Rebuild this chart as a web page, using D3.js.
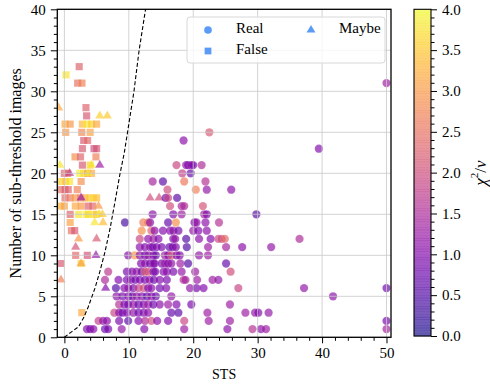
<!DOCTYPE html>
<html><head><meta charset="utf-8">
<script src="https://cdn.jsdelivr.net/npm/d3@7"></script>
<style>body{margin:0;background:#fff}svg{display:block}text{font-family:"Liberation Serif","DejaVu Serif",serif;fill:#000}</style>
</head><body><svg id="c" width="490" height="387"></svg>
<script>
// [STS, number of sub-threshold images, chi2/nu]
const realPts = [
[3.5,1,1.0],[4.0,1,0.9],[4.5,1,1.1],[6.3,1,0.8],[6.8,1,0.9],[8.9,1,1.2],[12.4,1,1.0],[18.6,1,1.3],[25.3,1,1.1],[29.2,1,1.6],[30.5,1,1.1],[31.3,1,1.3],[50,1,1.4],
[5.3,2,1.8],[6.0,2,1.2],[6.6,2,1.1],[8.5,2,0.9],[9.9,2,0.6],[11.5,2,1.0],[12.5,2,1.5],[13.5,2,2.0],[14.4,2,1.1],[16.1,2,1.0],[18.6,2,1.9],[22.4,2,1.3],[25.7,2,1.3],[50,2,0.9],
[7.75,3,1.9],[8.5,3,1.1],[9.0,3,0.9],[9.7,3,1.0],[10.7,3,1.2],[11.5,3,0.8],[12.3,3,1.0],[13.0,3,1.1],[16.6,3,0.7],[17.7,3,0.6],[22.2,3,1.3],[28.1,3,1.3],[29.6,3,1.2],[30.1,3,1.0],[31.7,3,1.2],
[8.5,4,1.6],[9.3,4,1.0],[9.9,4,0.9],[10.7,4,1.2],[11.5,4,0.8],[12.3,4,1.0],[13.0,4,1.3],[13.8,4,0.8],[14.8,4,1.1],[16.1,4,1.3],[17.4,4,1.0],[19.7,4,0.9],[25.7,4,1.3],
[8.1,5,1.1],[9.0,5,0.9],[9.9,5,1.0],[10.5,5,0.8],[11.2,5,1.2],[12.0,5,1.0],[12.8,5,0.7],[13.5,5,1.1],[14.2,5,0.8],[16.6,5,1.2],[41.7,5,1.1],
[8.0,6,0.5],[9.3,6,1.0],[9.9,6,1.2],[10.7,6,0.9],[11.5,6,1.8],[12.3,6,2.0],[13.0,6,1.0],[13.5,6,1.1],[14.8,6,0.8],[15.8,6,1.0],[19.5,6,1.2],[20.5,6,0.9],[21.6,6,1.0],[27.0,6,1.9],[37.2,6,1.2],[50,6,0.8],
[6.3,7,1.5],[8.4,7,1.0],[9.7,7,0.9],[10.3,7,1.1],[11.0,7,0.8],[11.7,7,1.0],[12.5,7,0.9],[13.2,7,1.2],[13.9,7,0.8],[14.8,7,1.0],[15.9,7,0.9],[18.5,7,1.6],[18.8,7,1.4],[20.6,7,1.3],[23.0,7,1.3],[23.9,7,1.2],
[6.8,8,1.7],[9.7,8,0.9],[10.5,8,1.0],[11.2,8,1.2],[12.0,8,0.8],[12.5,8,2.2],[13.0,8,2.0],[13.8,8,1.1],[14.1,8,0.9],[15.4,8,1.0],[15.9,8,1.1],[16.9,8,0.9],[18.2,8,1.2],[20.3,8,1.3],[25.8,8,2.0],
[11.9,9,1.0],[12.5,9,1.1],[13.3,9,0.8],[13.8,9,1.2],[14.0,9,1.0],[15.1,9,0.9],[15.6,9,1.3],[16.1,9,1.0],[16.6,9,1.2],[18.0,9,1.3],[19.2,9,0.5],[25.1,9,0.7],
[9.9,10,1.0],[10.9,10,3.0],[11.7,10,1.1],[12.5,10,0.9],[13.0,10,1.2],[13.8,10,1.0],[14.2,10,0.8],[15.6,10,1.3],[16.1,10,1.0],[16.6,10,2.1],[17.4,10,1.1],[17.9,10,1.0],[20.9,10,1.2],[22.3,10,1.3],
[11.7,11,1.1],[12.5,11,1.0],[13.3,11,1.2],[13.7,11,0.8],[14.3,11,1.0],[15.1,11,0.9],[16.3,11,0.7],[16.8,11,0.9],[17.3,11,1.0],[19.0,11,0.5],[22.3,11,1.3],[25.1,11,1.4],[27.6,11,1.1],[32.1,11,1.2],
[11.7,12,1.9],[13.0,12,1.1],[13.8,12,1.3],[14.6,12,1.0],[16.9,12,1.0],[17.2,12,1.2],[18.9,12,0.5],[20.9,12,1.1],[22.7,12,1.0],[23.9,12,1.9],[24.4,12,2.0],[24.9,12,2.4],[36.5,12,1.5],
[12.0,13,2.9],[13.5,13,2.4],[14.0,13,1.1],[15.3,13,1.0],[16.4,13,1.0],[16.9,13,1.2],[17.7,13,0.9],[20.0,13,1.2],[20.8,13,1.0],[22.1,13,1.1],
[9.4,14,0.4],[12.25,14,2.7],[13.0,14,2.6],[13.3,14,1.1],[16.1,14,0.7],[17.3,14,2.9],[20.2,14,1.0],[20.5,14,1.2],[21.9,14,1.1],[24.0,14,1.6],
[13.7,15,1.1],[16.9,15,1.0],[18.2,15,1.3],[21.7,15,1.4],[22.1,15,1.0],[29.8,15,0.6],
[16.4,16,2.0],[18.2,16,1.4],[18.6,16,1.5],[21.5,16,2.1],
[15.7,17,0.8],[16.1,17,1.9],[17.5,17,0.6],
[16.0,18,2.0],[20.4,18,2.7],[22.1,18,1.2],[25.9,18,1.1],
[13.7,19,1.4],[15.3,19,0.6],[18.6,19,2.6],[21.9,19,1.6],
[18.3,20,1.8],[19.6,20,0.7],
[17.4,21,1.9],[18.9,21,1.1],[19.2,21,1.0],[19.7,21,1.2],[20.0,21,0.9],[21.3,21,1.5],
[39.5,23,1.0],[18.5,24,1.1],[22.5,25,2.2],[50,31,1.3]
];
const falsePts = [
[2.3,33,2.3],[0.25,32,3.8],[2.06,31,2.5],[2.73,31,2.7],[3.35,28,2.3],[3.45,27,2.2],
[0.1,26,3.2],[0.9,26,3.0],[2.8,26,3.3],[3.5,26,3.8],[4.2,26,3.6],[5.0,26,3.2],
[0.2,25,3.0],[2.7,25,2.8],[4.0,25,3.1],[3.0,24,2.2],[3.6,24,2.4],
[2.8,23,2.2],[4.6,23,2.0],[5.0,23,2.1],[1.65,22,2.9],[2.5,22,2.3],[4.9,22,2.7],
[2.8,21,2.2],[4.0,21,3.6],
[0.0,20,2.3],[0.5,20,2.4],[2.4,20,3.9],[3.0,20,3.7],[3.6,20,3.0],[4.2,20,3.2],
[-0.5,19,3.6],[0.2,19,3.4],[0.8,19,3.8],[2.6,19,2.9],
[-0.5,18,2.5],[0.1,18,2.2],[0.6,18,2.3],[2.0,18,2.7],
[0.1,17,2.4],[0.9,17,2.6],[1.7,17,3.0],[2.5,17,2.7],[3.2,17,3.2],[3.9,17,3.5],[4.5,17,3.7],[5.0,17,3.4],
[-0.5,16,3.3],[0.0,16,3.1],[1.7,16,3.2],[2.6,16,3.0],[3.7,16,2.3],[4.4,16,2.4],
[0.9,15,2.3],[2.2,15,3.8],[3.4,15,3.9],[3.7,15,3.7],[4.5,15,3.8],[5.0,15,3.4],
[0.9,14,3.1],[1.1,13,2.5],[1.6,13,2.2],[1.75,10,2.4],[3.56,10,2.1],[-0.53,9,2.2],[2.6,9,3.6],[2.7,3,3.2]
];
const maybePts = [
[-0.9,28,3.2],[5.5,27,3.6],[6.66,27,3.5],[-0.7,21,3.8],[4.2,21,3.8],[5.5,21,1.3],[0.8,20,1.8],[3.7,20,3.9],
[2.6,17,1.3],[5.3,16,3.0],[5.4,15,3.9],[5.9,15,3.5],[4.7,14,3.8],[6.0,14,3.4],[2.2,12,3.0],[5.0,12,2.2],
[1.75,11,2.1],[4.9,10,1.2],[2.6,9,3.1],[-0.53,7,2.7],[6.4,6,1.0],[13.3,17,2.0],[14.7,17,2.0]
];
const curveX = [0,1,2.2,3,3.7,4.75,5.5,6.3,7.1,7.85,8.6,9.3,9.9,10.8,11.6,12.6,12.9];
const curveY = [0,0.6,1.3,2.4,3.7,6,8,10.4,13.3,16.5,19.8,22.5,25.5,30,35,40,41.5];
const xTicks = [0,10,20,30,40,50];
const yTicks = [0,5,10,15,20,25,30,35,40];
const cbTicks = [0,0.5,1,1.5,2,2.5,3,3.5,4];
const legendItems = [["Real","circle"],["False","square"],["Maybe","triangle"]];

const svg = d3.select("#c");
const L=57.3, R=391, T=9.3, B=337.3;
const x = d3.scaleLinear().domain([-1.1,50.7]).range([L,R]);
const y = d3.scaleLinear().domain([0,40]).range([B,T]);
const col = d3.scaleSequential(d3.interpolatePlasma).domain([0,4]);
const FS = 15;
const SERIF = '"Liberation Serif","DejaVu Serif",serif';

svg.append("defs").append("clipPath").attr("id","clip").append("rect")
  .attr("x",L).attr("y",T).attr("width",R-L).attr("height",B-T);

const plot = svg.append("g").attr("clip-path","url(#clip)");
const sym = {circle:d3.symbol(d3.symbolCircle,54), square:d3.symbol(d3.symbolSquare,52), triangle:d3.symbol(d3.symbolTriangle,38)};
function drawPts(data, type){
  plot.append("g").selectAll("path").data(data).join("path")
    .attr("d", sym[type]())
    .attr("transform", d=>`translate(${x(d[0])},${y(d[1])})`)
    .attr("fill", d=>col(d[2])).attr("fill-opacity",0.66)
    .attr("stroke","#fff").attr("stroke-opacity",0.2).attr("stroke-width",0.6);
}
drawPts(falsePts,"square");
drawPts(maybePts,"triangle");
drawPts(realPts,"circle");

// grid (above scatter, as in the original)
const grid = plot.append("g").attr("stroke","#c8c8c8").attr("stroke-width",1).attr("stroke-opacity",0.8);
xTicks.forEach(t=>grid.append("line").attr("x1",x(t)).attr("x2",x(t)).attr("y1",T).attr("y2",B));
yTicks.forEach(t=>grid.append("line").attr("y1",y(t)).attr("y2",y(t)).attr("x1",L).attr("x2",R));

// dashed curve
plot.append("path").datum(curveX.map((v,i)=>[v,curveY[i]]))
  .attr("d", d3.line().x(d=>x(d[0])).y(d=>y(d[1])))
  .attr("fill","none").attr("stroke","#000").attr("stroke-width",1.1).attr("stroke-dasharray","4,2.2");

// axes
const xAx = svg.append("g").attr("transform",`translate(0,${B})`)
  .call(d3.axisBottom(x).tickValues(xTicks).tickFormat(d3.format("d")).tickSize(6).tickPadding(4));
const xMin = svg.append("g").attr("transform",`translate(0,${B})`)
  .call(d3.axisBottom(x).tickValues(d3.range(0,51,2).filter(v=>v%10)).tickFormat("").tickSize(3.5));
const yAx = svg.append("g").attr("transform",`translate(${L},0)`)
  .call(d3.axisLeft(y).tickValues(yTicks).tickFormat(d3.format("d")).tickSize(6.5).tickPadding(5));
const yMin = svg.append("g").attr("transform",`translate(${L},0)`)
  .call(d3.axisLeft(y).tickValues(d3.range(0,41,1).filter(v=>v%5)).tickFormat("").tickSize(3.5));
[xAx,xMin,yAx,yMin].forEach(g=>{g.attr("font-family",SERIF);g.select(".domain").remove();g.selectAll("line").attr("stroke","#000").attr("stroke-width",1);g.selectAll("text").attr("font-family",SERIF).style("font-size",FS+"px");});
svg.append("rect").attr("x",L).attr("y",T).attr("width",R-L).attr("height",B-T)
  .attr("fill","none").attr("stroke","#000").attr("stroke-width",1.3);

svg.append("text").attr("transform",`translate(17,${(T+B)/2}) rotate(-90)`).attr("text-anchor","middle")
  .attr("dominant-baseline","middle").style("font-size","16px").text("Number of sub-threshold images");
svg.append("text").attr("x",(L+R)/2).attr("y",379).attr("text-anchor","middle").style("font-size","14px").text("STS");

// legend
const lg = svg.append("g");
lg.append("rect").attr("x",187).attr("y",17).attr("width",198).attr("height",46).attr("rx",3)
  .attr("fill","#fff").attr("fill-opacity",0.8).attr("stroke","#d8d8d8").attr("stroke-width",1);
const lpos = [[208,30,236],[208,51,236],[311,30,339]];
legendItems.forEach((it,i)=>{
  const p=lpos[i];
  lg.append("path").attr("d",d3.symbol(it[1]==="circle"?d3.symbolCircle:it[1]==="square"?d3.symbolSquare:d3.symbolTriangle, it[1]==="triangle"?34:46)())
    .attr("transform",`translate(${p[0]},${p[1]})`).attr("fill","#5b9bf5");
  lg.append("text").attr("x",p[2]).attr("y",p[1]).attr("dominant-baseline","middle").style("font-size",FS+"px").text(it[0]);
});

// colorbar
const cbL=414, cbR=431;
const cy = d3.scaleLinear().domain([0,4]).range([336,9.3]);
const cb = svg.append("g");
const N=120;
d3.range(N).forEach(i=>{
  const v0=i*4/N, v1=(i+1)*4/N;
  cb.append("rect").attr("x",cbL).attr("width",cbR-cbL).attr("y",cy(v1)).attr("height",cy(v0)-cy(v1)+0.3)
    .attr("fill",col((v0+v1)/2)).attr("fill-opacity",0.66);
});
cb.append("rect").attr("x",cbL).attr("y",cy(4)).attr("width",cbR-cbL).attr("height",cy(0)-cy(4))
  .attr("fill","none").attr("stroke","#000").attr("stroke-width",1.1);
const cbAx = svg.append("g").attr("transform",`translate(${cbR},0)`)
  .call(d3.axisRight(cy).tickValues(cbTicks).tickFormat(d3.format(".1f")).tickSize(6).tickPadding(5));
const cbMin = svg.append("g").attr("transform",`translate(${cbR},0)`)
  .call(d3.axisRight(cy).tickValues(d3.range(0,41).map(v=>v/10).filter((v,i)=>i%5)).tickFormat("").tickSize(3.5));
[cbAx,cbMin].forEach(g=>{g.attr("font-family",SERIF);g.select(".domain").remove();g.selectAll("line").attr("stroke","#000");g.selectAll("text").attr("font-family",SERIF).style("font-size",FS+"px");});
const cl = svg.append("text").attr("transform",`translate(482,173) rotate(-90)`).attr("text-anchor","middle")
  .attr("dominant-baseline","middle").style("font-size","17px");
cl.append("tspan").style("font-style","italic").text("χ");
cl.append("tspan").attr("dy",-7).style("font-size","11px").text("2");
cl.append("tspan").attr("dy",7).text("/");
cl.append("tspan").style("font-style","italic").text("ν");
</script></body></html>
